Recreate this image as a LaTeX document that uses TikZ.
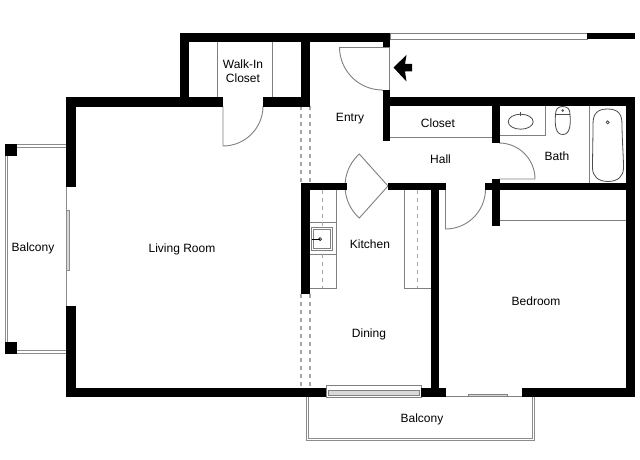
\documentclass[tikz,border=0pt]{standalone}
\usepackage{fontspec}
\setmainfont{Liberation Sans}
\tikzset{
  wall/.style={fill=black,draw=none},
  thin gray/.style={draw=black!50,line width=0.9pt},
  rail/.style={draw=black!45,line width=1pt},
  dashline/.style={draw=black!35,line width=1.2pt,dash pattern=on 4pt off 4pt},
  label/.style={font=\fontsize{12}{14}\selectfont,align=center,text=black,inner sep=0pt}
}
\newcommand{\wallbox}[4]{\fill[wall] (#1,-#2) rectangle (#3,-#4);}
\begin{document}
\begin{tikzpicture}[x=1pt,y=1pt]
\useasboundingbox (0,0) rectangle (640,-460);
\fill[white] (0,0) rectangle (640,-460);

% left balcony
\draw[rail] (66,-144.5) -- (5.5,-144.5) -- (5.5,-353) -- (66,-353);
\draw[rail] (66,-147) -- (7.5,-147) -- (7.5,-350.5) -- (66,-350.5);
\draw[rail] (66.5,-187) -- (66.5,-306);
\draw[rail,fill=black!15] (66,-210) rectangle (69,-270);
% bottom balcony
\draw[rail] (306,-397) -- (306,-440.5) -- (534,-440.5) -- (534,-397);
\draw[rail] (308,-397) -- (308,-438.5) -- (532,-438.5) -- (532,-397);
% bottom window
\draw[thin gray] (326,-385.5) rectangle (421,-397);
\draw[thin gray,fill=black!15] (328,-390.5) rectangle (419,-395.5);
% sliding door
\draw[thin gray] (446,-396.5) -- (522,-396.5);
\draw[thin gray,fill=black!15] (468,-394.5) rectangle (507,-396.5);
% top right bar
\draw[thin gray] (390,-33) rectangle (587,-39.5);

% walk-in closet
\draw[thin gray] (217.5,-42) -- (217.5,-97);
\draw[thin gray] (272.5,-42) -- (272.5,-97);
% doors
\draw[thin gray] (263,-106) arc[start angle=0,end angle=-90,radius=40pt] -- (223,-106);
\draw[thin gray] (339.5,-47) -- (389.5,-47) -- (389.5,-90) -- (382,-90);
\draw[thin gray] (339.5,-47) arc[start angle=180,end angle=270,radius=43pt];
\draw[thin gray] (499,-143) arc[start angle=90,end angle=0,radius=36pt] -- (499,-179);
\draw[thin gray] (485.5,-189) arc[start angle=0,end angle=-90,radius=40pt] -- (445.5,-189);
\draw[thin gray] (388,-186) -- (359.3,-154) arc[start angle=131.9,end angle=228.1,radius=43pt] -- cycle;
% passage dashes
\draw[dashline] (301,-106) -- (301,-183);
\draw[dashline] (310,-106) -- (310,-183);
\draw[dashline] (301,-294) -- (301,-387);
\draw[dashline] (310,-294) -- (310,-387);
% closet and bedroom shelves
\draw[thin gray] (390,-137.5) -- (492,-137.5);
\draw[thin gray] (499,-220.5) -- (626,-220.5);
% bath
\draw[thin gray] (499,-135.5) -- (545,-135.5) -- (545,-106);
\draw[black!70,line width=0.8pt] (520.7,-121.7) ellipse[x radius=12.5pt,y radius=7.5pt];
\draw[black!70,line width=0.8pt] (520.5,-116) -- (520.5,-112);
\draw[black!70,line width=0.8pt] (555.5,-114.5) .. controls (555.5,-109) and (558,-106.5) .. (562.7,-106.5) .. controls (567.5,-106.5) and (570,-109) .. (570,-114.5) -- cycle;
\draw[black!70,line width=0.8pt] (555.5,-114.5) .. controls (554.5,-126) and (556,-134.5) .. (562.7,-134.5) .. controls (569.5,-134.5) and (571,-126) .. (570,-114.5);
\fill[black!70] (562.7,-110.5) circle[radius=1.3pt];
\draw[thin gray] (589.5,-106) -- (589.5,-183);
\draw[black!70,line width=0.8pt] (607.5,-109) .. controls (597,-109) and (593,-114) .. (593,-124) .. controls (593,-140) and (592.5,-155) .. (592.5,-168) .. controls (592.5,-176) and (598,-181.5) .. (608,-181.5) .. controls (618,-181.5) and (623.5,-176) .. (623.5,-168) .. controls (623.5,-155) and (622,-140) .. (622,-124) .. controls (622,-114) and (618,-109) .. (607.5,-109) -- cycle;
\draw[black!70,line width=0.8pt] (607.7,-122.3) circle[radius=1.5pt];
% kitchen
\draw[thin gray] (336,-190) -- (336,-288.5) -- (310,-288.5);
\draw[thin gray] (310,-222.5) -- (336,-222.5);
\draw[thin gray] (310,-254.5) -- (336,-254.5);
\draw[thin gray] (404.5,-190) -- (404.5,-288.5) -- (431,-288.5);
\draw[dashline,line width=0.8pt] (322.7,-190) -- (322.7,-288);
\draw[dashline,line width=0.8pt] (417.5,-190) -- (417.5,-288);
\draw[thin gray,fill=white] (311.8,-227.8) rectangle (332.8,-250.8);
\draw[thin gray] (313.8,-229.8) rectangle (330.8,-248.8);
\draw[black,line width=0.7pt] (312,-239) -- (320,-239);
\draw[black,line width=0.7pt] (320,-239) circle[radius=1.5pt];

% walls
\wallbox{180}{33}{390}{42}
\wallbox{180}{33}{189}{106.5}
\wallbox{66}{97}{223}{106.5}
\wallbox{263}{97}{310}{106.5}
\wallbox{301}{33}{310}{106.5}
\wallbox{383}{33}{390}{47}
\wallbox{383}{90}{390}{141}
\wallbox{383}{97}{635}{106}
\wallbox{626}{97}{635}{397}
\wallbox{492}{97}{499.5}{143}
\wallbox{492}{179}{499.5}{226}
\wallbox{485}{183}{635}{189.5}
\wallbox{388}{183}{445.5}{189.5}
\wallbox{301}{183}{347}{189.5}
\wallbox{431}{183}{439}{397}
\wallbox{301}{183}{310}{294}
\wallbox{66}{97}{75.5}{187}
\wallbox{66}{306}{75.5}{397}
\wallbox{66}{388}{326}{397}
\wallbox{421}{388}{445.5}{397}
\wallbox{522}{388}{635}{397}
\wallbox{587}{33}{635}{39.5}
\wallbox{5}{144}{17}{156}
\wallbox{5}{342}{17}{354}
% entry arrow
\fill[black] (393.5,-67.5) -- (406.5,-55) -- (405,-64) -- (412,-64) -- (412,-71.5) -- (405,-71.5) -- (406.5,-81.5) -- cycle;

% labels
\node[label] (walkin) at (243,-71) {Walk-In\\Closet};
\node[label] (entry) at (350,-119) {Entry};
\node[label] (closet) at (438,-123.5) {Closet};
\node[label] (hall) at (440.5,-159.5) {Hall};
\node[label] (bath) at (557,-156.5) {Bath};
\node[label] (kitchen) at (370,-244.5) {Kitchen};
\node[label] (living) at (182,-249) {Living Room};
\node[label] (balconyw) at (33,-248) {Balcony};
\node[label] (dining) at (369,-334.5) {Dining};
\node[label] (bedroom) at (536,-301) {Bedroom};
\node[label] (balconys) at (422,-419) {Balcony};
\end{tikzpicture}
\end{document}
